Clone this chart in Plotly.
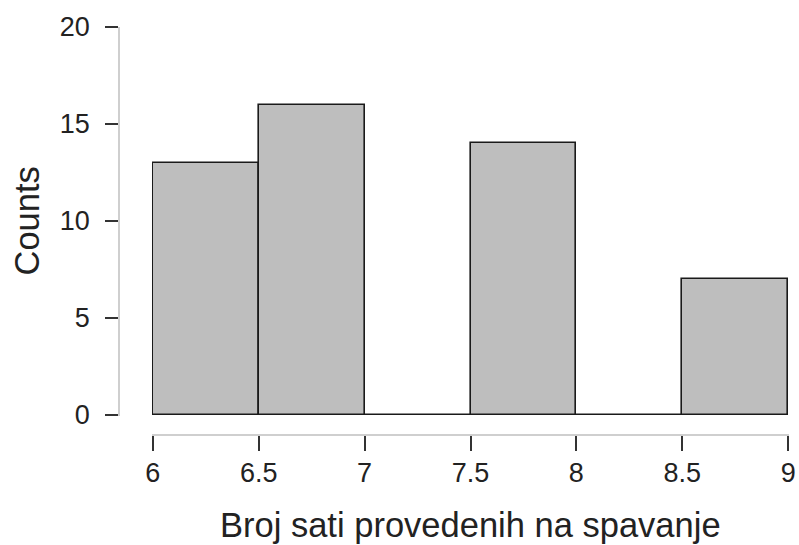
import plotly.graph_objects as go

# histogram bins (hours of sleep) and counts
bin_edges = [6.0, 6.5, 7.0, 7.5, 8.0, 8.5, 9.0]
counts = [13, 16, 0, 14, 0, 7]
x_ticks = [6, 6.5, 7, 7.5, 8, 8.5, 9]
x_tick_labels = ["6", "6.5", "7", "7.5", "8", "8.5", "9"]
y_ticks = [0, 5, 10, 15, 20]

centers = [(a + b) / 2 for a, b in zip(bin_edges[:-1], bin_edges[1:])]
widths = [b - a for a, b in zip(bin_edges[:-1], bin_edges[1:])]

W, H = 799, 545
FONT = "Liberation Sans, Arial, Helvetica, sans-serif"


def px_x(v):
    return v / W


def px_y(v):
    return 1 - v / H


fig = go.Figure(go.Bar(
    x=centers, y=counts, width=widths,
    marker=dict(color="#bebebe", line=dict(color="#1a1a1a", width=1.6)),
    hoverinfo="x+y",
))

axis_common = dict(
    showgrid=False, zeroline=False, showline=True,
    linecolor="#cfcfcf", linewidth=1.6,
    ticks="outside", tickcolor="#333333", tickwidth=1.6,
    tickfont=dict(family=FONT, size=27, color="#222222"),
    anchor="free", automargin=False,
)

fig.update_layout(
    width=W, height=H,
    margin=dict(l=0, r=0, t=0, b=0, pad=0),
    plot_bgcolor="white", paper_bgcolor="white",
    showlegend=False,
    bargap=0,
    xaxis=dict(
        axis_common,
        domain=[px_x(152), px_x(789)],
        range=[5.996, 9.004],
        tickvals=x_ticks, ticktext=x_tick_labels,
        ticklen=15,
        ticklabelstandoff=-1,
        position=px_y(435),
    ),
    yaxis=dict(
        axis_common,
        domain=[px_y(416), px_y(27)],
        range=[-0.06, 20],
        tickvals=y_ticks,
        ticklen=13,
        ticklabelstandoff=10,
        position=px_x(119),
    ),
    annotations=[
        dict(text="Broj sati provedenih na spavanje", xref="paper", yref="paper",
             x=px_x(470), y=px_y(525), showarrow=False,
             xanchor="center", yanchor="middle",
             font=dict(family=FONT, size=34.5, color="#222222")),
        dict(text="Counts", xref="paper", yref="paper",
             x=px_x(27), y=px_y(221.5), showarrow=False, textangle=-90,
             xanchor="center", yanchor="middle",
             font=dict(family=FONT, size=34.5, color="#222222")),
    ],
)

# drop the default body margin so the figure sits at the top-left corner
fig.write_html(
    "out.html",
    config={"displayModeBar": False},
    post_script="document.body.style.margin='0';document.body.style.overflow='hidden';",
)
